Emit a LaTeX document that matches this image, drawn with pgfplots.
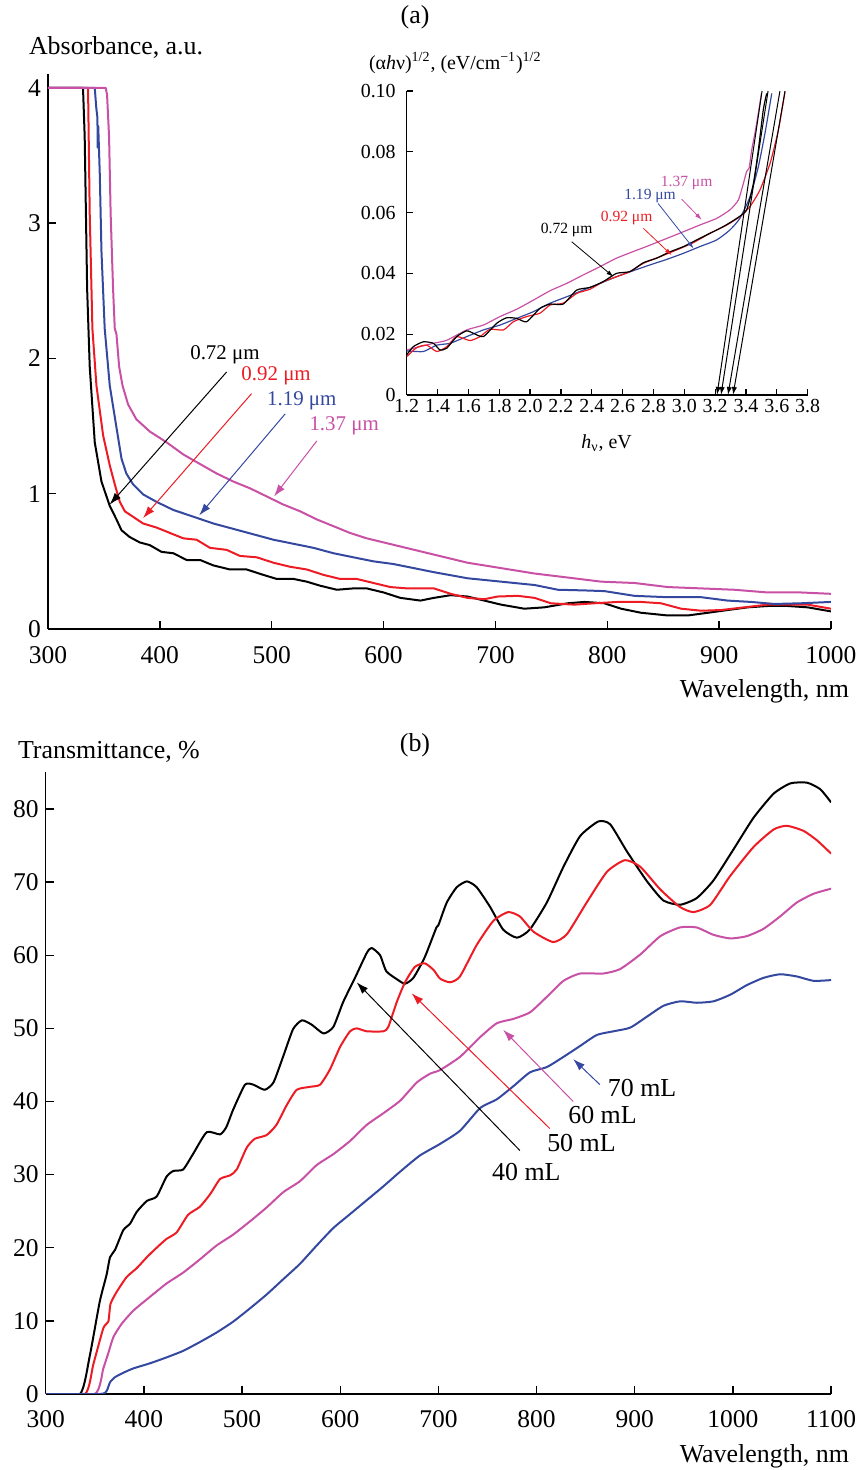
\documentclass[border=0pt]{standalone}
\usepackage{fontspec}
\setmainfont{Liberation Serif}
\usepackage{pgfplots}
\pgfplotsset{compat=1.18}
\usetikzlibrary{arrows.meta}
\definecolor{cred}{RGB}{237,28,36}
\definecolor{cblue}{RGB}{52,72,160}
\definecolor{cmag}{RGB}{200,80,165}
\newcommand{\fs}[1]{\fontsize{#1}{#1}\selectfont}
\begin{document}
\begin{tikzpicture}
\useasboundingbox (0bp,0bp) rectangle (428.5bp,735bp);
% ---------------- panel (a) main ----------------
\begin{axis}[
  at={(24bp,420.5bp)}, anchor=south west,
  scale only axis, width=391.5bp, height=277.3bp,
  xmin=300, xmax=1000, ymin=0, ymax=4.1,
  axis x line*=bottom, axis y line*=left,
  xtick={300,400,500,600,700,800,900,1000},
  ytick={0,1,2,3,4},
  tick align=inside, major tick length=4bp,
  tick label style={font=\fs{12.8}},
  xticklabel style={yshift=-5.5bp},
  /pgf/number format/assume math mode=true,
  /pgf/number format/set thousands separator={},
  axis line style={line width=0.7bp},
  every tick/.style={line width=0.7bp, black},
  line join=round,
]
\addplot[black, line width=1bp] coordinates {
(300,4)(331.3,4)(332.8,3.64)(335,2.51)(337.3,1.94)(341.8,1.38)(347.8,1.09)(355.2,0.91)(361.2,0.81)(365.7,0.73)(373,0.68)(382,0.64)(391,0.62)(401.5,0.57)(412,0.56)(424,0.51)(436,0.51)(447.8,0.47)(462.7,0.44)(477.6,0.44)(492.5,0.40)(504.5,0.37)(519.4,0.37)(531.3,0.35)(543.3,0.32)(558.2,0.29)(573,0.30)(585,0.30)(600,0.27)(615,0.23)(633,0.21)(645,0.23)(660,0.25)(675,0.24)(690,0.21)(705,0.18)(725.8,0.15)(743.7,0.16)(764.6,0.19)(779.5,0.20)(797.4,0.19)(812.3,0.15)(830.2,0.12)(854,0.10)(872,0.10)(890,0.12)(907.6,0.14)(925.5,0.16)(943.4,0.17)(961.3,0.17)(979.2,0.16)(1000,0.13)};
\addplot[cred, line width=1bp] coordinates {
(300,4)(335.8,4)(337.3,3.07)(339.7,2.22)(343.3,1.80)(349.3,1.43)(355.2,1.21)(359.7,1.07)(364.2,0.94)(368.7,0.87)(376,0.83)(385,0.78)(397,0.75)(409,0.71)(421,0.67)(432.8,0.66)(444.8,0.60)(459.7,0.585)(471.6,0.54)(486.6,0.53)(501.5,0.49)(516.4,0.46)(531.3,0.44)(546.3,0.40)(561.2,0.37)(576,0.37)(591,0.34)(606,0.31)(621,0.30)(645,0.30)(660,0.26)(675,0.23)(690,0.22)(702,0.24)(720,0.245)(735,0.23)(749.6,0.19)(770.5,0.18)(788.4,0.19)(809.3,0.20)(830.2,0.20)(848,0.19)(866,0.15)(884,0.135)(901.6,0.14)(922.5,0.16)(943.4,0.18)(961.3,0.18)(979.2,0.18)(1000,0.15)};
\addplot[cblue, line width=1bp] coordinates {
(300,4)(341.8,4)(343.2,3.85)(344.2,3.78)(344.4,3.56)(344.9,3.72)(346.3,3.36)(347.8,2.79)(350.7,2.22)(355.2,1.80)(361.2,1.49)(365.7,1.26)(370,1.15)(376,1.07)(385,0.995)(397,0.94)(412,0.88)(430,0.83)(447.8,0.78)(465.7,0.74)(483.6,0.70)(501.5,0.66)(519.4,0.63)(537.3,0.60)(555.2,0.56)(573,0.53)(591,0.50)(609,0.48)(627,0.45)(645,0.42)(675,0.375)(705,0.35)(735,0.325)(756,0.29)(780,0.285)(797.4,0.28)(824.3,0.245)(854,0.235)(884,0.235)(907.6,0.21)(928.5,0.20)(949.4,0.185)(973,0.19)(1000,0.20)};
\addplot[cmag, line width=1bp] coordinates {
(300,4)(351.6,4)(352.8,3.95)(354.6,3.64)(356,3.07)(358.2,2.51)(359.7,2.22)(361.2,2.18)(363.6,1.94)(366.6,1.80)(371.6,1.66)(379,1.55)(391,1.46)(406,1.38)(421,1.29)(435.8,1.22)(450.7,1.15)(465.7,1.09)(480.6,1.04)(495.5,0.98)(510.4,0.92)(525.4,0.87)(540.3,0.81)(555.2,0.76)(570,0.71)(585,0.67)(600,0.64)(615,0.61)(645,0.55)(675,0.49)(705,0.45)(735,0.41)(765,0.38)(794.5,0.35)(824.3,0.34)(854,0.31)(884,0.30)(913.6,0.29)(943.4,0.27)(973,0.27)(1000,0.26)};
% annotations
\draw[black, line width=0.5bp, -{Latex[length=6bp,width=4bp]}] (axis cs:459.7,1.90) -- (axis cs:355.2,0.92);
\draw[cred, line width=0.5bp, -{Latex[length=6bp,width=4bp]}] (axis cs:482,1.74) -- (axis cs:385,0.82);
\draw[cblue, line width=0.5bp, -{Latex[length=6bp,width=4bp]}] (axis cs:512,1.59) -- (axis cs:435.2,0.84);
\draw[cmag, line width=0.5bp, -{Latex[length=6bp,width=4bp]}] (axis cs:540.3,1.39) -- (axis cs:502.1,0.98);
\node[font=\fs{10.5}, black] at (axis cs:458.2,2.03) {0.72 μm};
\node[font=\fs{10.5}, cred] at (axis cs:503.9,1.87) {0.92 μm};
\node[font=\fs{10.5}, cblue] at (axis cs:526.9,1.69) {1.19 μm};
\node[font=\fs{10.5}, cmag] at (axis cs:564.8,1.50) {1.37 μm};
\end{axis}
% ---------------- inset ----------------
\begin{axis}[
  at={(203.35bp,537.5bp)}, anchor=south west,
  scale only axis, width=200.5bp, height=152bp,
  xmin=1.2, xmax=3.8, ymin=0, ymax=0.10,
  axis x line*=bottom, axis y line*=left,
  xtick={1.2,1.4,1.6,1.8,2.0,2.2,2.4,2.6,2.8,3.0,3.2,3.4,3.6,3.8},
  xticklabels={1.2,1.4,1.6,1.8,2.0,2.2,2.4,2.6,2.8,3.0,3.2,3.4,3.6,3.8},
  ytick={0,0.02,0.04,0.06,0.08,0.10},
  yticklabels={0,0.02,0.04,0.06,0.08,0.10},
  tick align=inside, major tick length=3bp,
  tick label style={font=\fs{10}},
  xticklabel style={inner xsep=0pt, inner ysep=1.5pt, yshift=-0.5bp},
  yticklabel style={xshift=-2bp},
  axis line style={line width=0.6bp},
  every tick/.style={line width=0.6bp, black},
  line join=round,
]
\addplot[cmag, line width=0.6bp, smooth, tension=0.35] coordinates {
(1.2,0.0148)(1.373,0.017)(1.46,0.018)(1.589,0.0214)(1.697,0.023)(1.805,0.0258)(1.913,0.0282)(2.021,0.0312)(2.13,0.0343)(2.237,0.0367)(2.345,0.0395)(2.453,0.0422)(2.56,0.045)(2.67,0.0472)(2.778,0.0493)(2.886,0.0515)(2.994,0.0537)(3.1,0.0559)(3.21,0.0581)(3.296,0.0609)(3.35,0.0641)(3.383,0.0696)(3.404,0.0735)(3.42,0.0746)(3.437,0.0806)(3.458,0.0861)(3.48,0.0927)(3.5,0.0992)};
\addplot[cblue, line width=0.6bp, smooth, tension=0.35] coordinates {
(1.2,0.0145)(1.308,0.0143)(1.395,0.0164)(1.481,0.017)(1.589,0.0192)(1.697,0.0214)(1.805,0.023)(1.913,0.0252)(2.021,0.0274)(2.13,0.0302)(2.237,0.0323)(2.345,0.0345)(2.453,0.0367)(2.56,0.0389)(2.67,0.0409)(2.778,0.0428)(2.886,0.0446)(2.994,0.0466)(3.1,0.0488)(3.21,0.051)(3.296,0.0543)(3.36,0.0581)(3.426,0.0652)(3.48,0.0751)(3.523,0.0861)(3.567,0.0992)};
\addplot[cred, line width=0.6bp, smooth, tension=0.35] coordinates {
(1.2,0.0126)(1.265,0.0156)(1.33,0.0164)(1.395,0.0143)(1.46,0.0159)(1.524,0.0192)(1.61,0.0179)(1.675,0.0192)(1.74,0.0216)(1.827,0.0214)(1.892,0.0241)(1.978,0.0258)(2.064,0.0269)(2.13,0.0296)(2.215,0.0302)(2.302,0.0334)(2.389,0.0348)(2.475,0.0373)(2.56,0.0389)(2.648,0.0406)(2.734,0.0433)(2.843,0.0455)(2.95,0.0477)(3.058,0.0501)(3.167,0.0532)(3.275,0.0559)(3.361,0.0587)(3.426,0.062)(3.49,0.0674)(3.556,0.0762)(3.61,0.0872)(3.653,0.0998)};
\addplot[black, line width=0.6bp, smooth, tension=0.35] coordinates {
(1.2,0.0132)(1.243,0.0159)(1.308,0.0175)(1.373,0.017)(1.416,0.0148)(1.46,0.0154)(1.524,0.0192)(1.589,0.0211)(1.632,0.0203)(1.697,0.0192)(1.784,0.0236)(1.848,0.0254)(1.913,0.0252)(1.978,0.0241)(2.064,0.0285)(2.13,0.0299)(2.215,0.0299)(2.302,0.0345)(2.389,0.0354)(2.475,0.0373)(2.56,0.04)(2.648,0.0406)(2.734,0.0435)(2.82,0.045)(2.907,0.0471)(2.994,0.0488)(3.08,0.051)(3.167,0.0532)(3.253,0.0554)(3.34,0.0581)(3.404,0.0609)(3.448,0.0696)(3.48,0.0806)(3.512,0.0938)(3.534,0.0992)};
% tangent lines
\draw[black, line width=0.5bp, -{Latex[length=4bp,width=2.6bp]}] (axis cs:3.504,0.1) -- (axis cs:3.212,0);
\draw[black, line width=0.5bp, -{Latex[length=4bp,width=2.6bp]}] (axis cs:3.543,0.1) -- (axis cs:3.238,0);
\draw[black, line width=0.5bp, -{Latex[length=4bp,width=2.6bp]}] (axis cs:3.62,0.1) -- (axis cs:3.283,0);
\draw[black, line width=0.5bp, -{Latex[length=4bp,width=2.6bp]}] (axis cs:3.653,0.1) -- (axis cs:3.316,0);
% labels
\draw[black, line width=0.4bp, -{Latex[length=3.5bp,width=2.2bp]}] (axis cs:2.27,0.0504) -- (axis cs:2.54,0.0389);
\draw[cred, line width=0.4bp, -{Latex[length=3.5bp,width=2.2bp]}] (axis cs:2.735,0.0548) -- (axis cs:2.918,0.046);
\draw[cblue, line width=0.4bp, -{Latex[length=3.5bp,width=2.2bp]}] (axis cs:2.83,0.063) -- (axis cs:3.06,0.0482);
\draw[cmag, line width=0.4bp, -{Latex[length=3.5bp,width=2.2bp]}] (axis cs:2.983,0.0644) -- (axis cs:3.113,0.0576);
\node[font=\fs{7.8}, black] at (axis cs:2.237,0.0543) {0.72 μm};
\node[font=\fs{7.8}, cred] at (axis cs:2.626,0.0581) {0.92 μm};
\node[font=\fs{7.8}, cblue] at (axis cs:2.778,0.0655) {1.19 μm};
\node[font=\fs{7.8}, cmag] at (axis cs:3.015,0.0696) {1.37 μm};
\end{axis}
% ---------------- panel (b) ----------------
\begin{axis}[
  at={(22.85bp,38bp)}, anchor=south west,
  scale only axis, width=392.7bp, height=310.8bp,
  xmin=300, xmax=1100, ymin=0, ymax=85,
  axis x line*=bottom, axis y line*=left,
  xtick={300,400,500,600,700,800,900,1000,1100},
  ytick={0,10,20,30,40,50,60,70,80},
  tick align=inside, major tick length=4bp,
  tick label style={font=\fs{12.8}},
  xticklabel style={yshift=-4.5bp},
  /pgf/number format/assume math mode=true,
  /pgf/number format/set thousands separator={},
  axis line style={line width=0.7bp},
  every tick/.style={line width=0.7bp, black},
  line join=round,
]
\addplot[black, line width=1bp, smooth, tension=0.35] coordinates {
(300,0)(335,0)(345,5.3)(355,12.6)(362,16.3)(365.5,18.7)(370.6,19.7)(379,22.4)(386,23.3)(392.7,24.9)(403,26.4)(413,27)(423,29.7)(430,30.5)(440,30.7)(450,32.8)(464,35.8)(477.6,35.5)(484,36.5)(491,38.9)(503,42.3)(511.5,42.3)(523,41.6)(532,42.6)(542,46.2)(552,49.9)(561,51.1)(571,50.5)(583,49.3)(593,50.2)(603,53.6)(615,56.9)(627,60.3)(632,61)(640.6,60)(647,57.8)(659,56.6)(666,56.1)(674.5,56.9)(686,59.7)(698,63.8)(700,64.1)(708.5,67.2)(718.7,69.3)(729,70.1)(739,69.3)(752.7,66.6)(766,63.5)(780,62.4)(793,63.5)(810.4,67.2)(827.4,72.1)(844.4,76.3)(863,78.3)(875,77.9)(892,74.2)(912,70.2)(929,67.5)(946,66.9)(963,67.8)(980,70.2)(1000.7,74.5)(1021,78.8)(1041.5,82.1)(1058.5,83.5)(1075.5,83.6)(1089,82.7)(1100,80.9)};
\addplot[cred, line width=1bp, smooth, tension=0.35] coordinates {
(300,0)(340,0)(348.6,4.1)(358.7,9.0)(363.8,9.9)(366,12.3)(372,13.9)(382.5,16)(392.7,17.2)(403,18.7)(413,20)(423,21.2)(433.4,22.1)(445,24.5)(457,25.6)(467.4,27.3)(477.6,29.4)(487.8,29.9)(494.6,30.7)(504.8,33.7)(513,34.9)(525,35.4)(535,36.8)(545.5,39.5)(555.7,41.6)(569,42)(579.5,42.3)(589.6,44.4)(600,47.5)(610,49.6)(616.8,50)(627,49.6)(644,49.6)(649,50.2)(657.6,53.6)(666,56.3)(676,58.4)(686,58.9)(695,58.0)(701.7,56.8)(712,56.3)(722,57.1)(739,61.4)(756,64.7)(771,65.9)(783,65.3)(797,63.2)(817,61.8)(831,62.9)(851,67.2)(871.6,71.4)(890,73)(905.6,72.1)(926,69.0)(946,66.6)(960,65.9)(977,66.9)(997,70.8)(1021,74.8)(1041.5,77.2)(1055,77.7)(1072,77.0)(1085.7,75.7)(1100,73.9)};
\addplot[cmag, line width=1bp, smooth, tension=0.35] coordinates {
(300,0)(350,0)(358.7,3.5)(363.8,5.6)(369,7.8)(377.4,9.6)(389.3,11.4)(406.3,13.3)(423,15.1)(440,16.6)(457,18.4)(474,20.3)(491,21.8)(508,23.6)(525,25.5)(542,27.6)(559,29.1)(576,31.3)(593,32.8)(610,34.6)(627,36.8)(644,38.4)(661,40.1)(678,42.6)(691.5,43.8)(701.7,44.3)(722,46.1)(742.5,48.8)(759.5,50.7)(776.5,51.3)(793.4,52.2)(810.4,54.3)(827.4,56.5)(844.4,57.5)(868,57.5)(885,58.1)(905.6,60.1)(926,62.6)(946,63.8)(963,63.8)(980,62.8)(997,62.3)(1014,62.6)(1031,63.6)(1048,65.3)(1065,67.2)(1082,68.4)(1100,69.1)};
\addplot[cblue, line width=1bp, smooth, tension=0.35] coordinates {
(300,0)(355,0)(362,0.4)(365.5,1.6)(370.6,2.3)(379,2.9)(389.3,3.5)(406.3,4.2)(423,5.0)(440,5.9)(457,7.1)(474,8.4)(491,9.9)(508,11.7)(525,13.6)(542,15.7)(559,17.8)(576,20.3)(593,22.7)(610,24.6)(627,26.5)(644,28.4)(661,30.4)(681,32.6)(701.7,34.2)(722,36.0)(742.5,39.1)(759.5,40.3)(776.5,42.1)(793.4,44.0)(810.4,44.7)(827.4,46.1)(844.4,47.6)(861.4,49.1)(878.4,49.6)(895.4,50.1)(912.4,51.6)(929.4,53.1)(946.4,53.7)(963.3,53.5)(980.3,53.7)(997.3,54.6)(1014,55.9)(1031,56.9)(1048,57.4)(1065,57.1)(1082,56.5)(1100,56.6)};
% annotations
\draw[black, line width=0.5bp, -{Latex[length=6bp,width=4bp]}] (axis cs:783,33.3) -- (axis cs:616.7,56.3);
\draw[cred, line width=0.5bp, -{Latex[length=6bp,width=4bp]}] (axis cs:813.5,36.3) -- (axis cs:672.7,54.8);
\draw[cmag, line width=0.5bp, -{Latex[length=6bp,width=4bp]}] (axis cs:837.3,40.0) -- (axis cs:766,49.8);
\draw[cblue, line width=0.5bp, -{Latex[length=6bp,width=4bp]}] (axis cs:864.5,42.3) -- (axis cs:837.3,45.8);
\node[font=\fs{13}, black] at (axis cs:789.6,30.4) {40 mL};
\node[font=\fs{13}, black] at (axis cs:845.7,34.3) {50 mL};
\node[font=\fs{13}, black] at (axis cs:867.2,38.2) {60 mL};
\node[font=\fs{13}, black] at (axis cs:907.5,41.8) {70 mL};
\end{axis}
% ---------------- free texts ----------------
\node[font=\fs{13}] at (207.5bp,726.5bp) {(a)};
\node[font=\fs{13}, anchor=west] at (11bp,711bp) {Absorbance, a.u.};
\node[font=\fs{13}, anchor=east] at (428bp,389.5bp) {Wavelength, nm};
\node[font=\fs{10}, anchor=west] at (181bp,703.5bp) {(α\textit{h}ν)\textsuperscript{1/2}, (eV/cm\textsuperscript{−1})\textsuperscript{1/2}};
\node[font=\fs{10}] at (303.3bp,513.5bp) {\textit{h}\textsubscript{ν}, eV};
\node[font=\fs{13}] at (207.5bp,362.5bp) {(b)};
\node[font=\fs{13}, anchor=west] at (5.5bp,359bp) {Transmittance, \%};
\node[font=\fs{13}, anchor=east] at (428bp,7bp) {Wavelength, nm};
\end{tikzpicture}
\end{document}
